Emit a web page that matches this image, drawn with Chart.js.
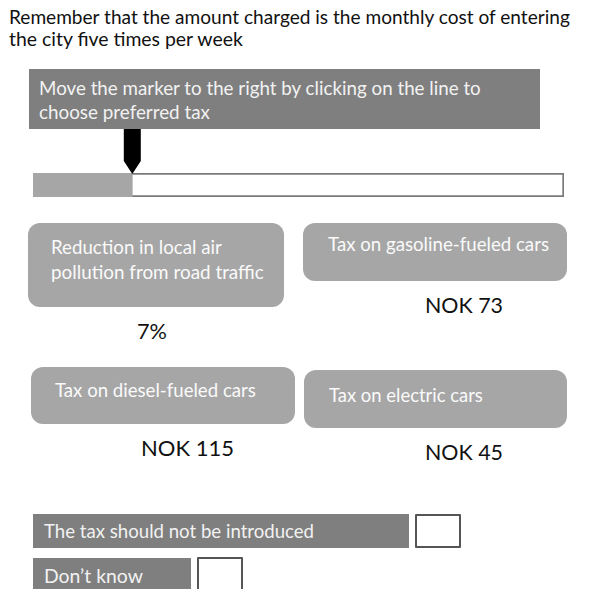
<!DOCTYPE html>
<html>
<head>
<meta charset="utf-8">
<script src="https://cdn.jsdelivr.net/npm/chart.js@4.4.1/dist/chart.umd.min.js"></script>
<style>
  html, body { margin:0; padding:0; background:#fff; }
  body { width:605px; height:589px; position:relative; overflow:hidden; font-family:Lato, "Open Sans", sans-serif; }
  .t { position:absolute; white-space:nowrap; line-height:24px; }
  .box { position:absolute; }
  .dark { background:#7f7f7f; color:#f2f2f2; }
  .light { background:#a6a6a6; color:#fafafa; border-radius:12px; }
  .chk { position:absolute; background:#fff; border:2px solid #555; box-sizing:border-box; border-radius:1px; }
  .val { color:#111; }
  #sliderWrap { position:absolute; left:20px; top:120px; width:560px; height:90px; z-index:0; }
  .over { z-index:2; }
</style>
</head>
<body>

<div class="t" data-w="561" style="left:9px;top:5px;color:#111">Remember that the amount charged is the monthly cost of entering</div>
<div class="t" data-w="234" style="left:9px;top:27px;color:#111">the city five times per week</div>

<div id="sliderWrap"><canvas id="slider"></canvas></div>

<div class="box dark over" style="left:29px;top:69px;width:511px;height:60px"></div>
<div class="t over" data-w="442" style="left:39px;top:76px;color:#f2f2f2">Move the marker to the right by clicking on the line to</div>
<div class="t over" data-w="171" style="left:39px;top:100px;color:#f2f2f2">choose preferred tax</div>

<div class="box light" style="left:28px;top:223px;width:256px;height:84px"></div>
<div class="t" data-w="171" style="left:51px;top:235px;color:#fafafa">Reduction in local air</div>
<div class="t" data-w="213" style="left:51px;top:260px;color:#fafafa">pollution from road traffic</div>

<div class="box light" style="left:303px;top:223px;width:264px;height:58px"></div>
<div class="t" data-w="221" style="left:328px;top:232px;color:#fafafa">Tax on gasoline-fueled cars</div>

<div class="box light" style="left:31px;top:367px;width:264px;height:57px"></div>
<div class="t" data-w="201" style="left:55px;top:378px;color:#fafafa">Tax on diesel-fueled cars</div>

<div class="box light" style="left:304px;top:370px;width:263px;height:58px"></div>
<div class="t" data-w="154" style="left:329px;top:383px;color:#fafafa">Tax on electric cars</div>

<div class="t val" data-w="30" style="left:137px;top:319px">7%</div>
<div class="t val" data-w="78" style="left:425px;top:293px">NOK 73</div>
<div class="t val" data-w="93" style="left:141px;top:436px">NOK 115</div>
<div class="t val" data-w="78" style="left:425px;top:440px">NOK 45</div>

<div class="box dark" style="left:33px;top:514px;width:376px;height:34px"></div>
<div class="t" data-w="270" style="left:44px;top:519px;color:#f2f2f2">The tax should not be introduced</div>
<div class="chk" style="left:415px;top:514px;width:46px;height:34px"></div>

<div class="box dark" style="left:33px;top:558px;width:158px;height:40px"></div>
<div class="t" data-w="99" style="left:44px;top:564px;color:#f2f2f2">Don’t  know</div>
<div class="chk" style="left:197px;top:557px;width:46px;height:40px"></div>

<script>
// slider data
const sliderLabels = ['Tax'];
const sliderMin = 0;
const sliderMax = 100;
const markerValue = [18.7];
const trackValue = [100];

// fit each text line to the width measured on the reference
document.querySelectorAll('.t').forEach(el=>{
  const base = 17;
  el.style.fontSize = base + 'px';
  const w = el.getBoundingClientRect().width;
  const target = Number(el.dataset.w);
  el.style.fontSize = (base * target / w).toFixed(2) + 'px';
});

const markerPlugin = {
  id:'marker',
  afterDatasetsDraw(chart){
    const {ctx, chartArea, scales} = chart;
    const x = scales.x.getPixelForValue(markerValue[0]);
    const top = chartArea.top;
    ctx.save();
    ctx.fillStyle = '#000';
    ctx.beginPath();
    ctx.moveTo(x - 8.5, top - 48);
    ctx.lineTo(x + 8.5, top - 48);
    ctx.lineTo(x + 8.5, top - 12);
    ctx.lineTo(x, top + 1);
    ctx.lineTo(x - 8.5, top - 12);
    ctx.closePath();
    ctx.fill();
    ctx.restore();
  }
};

new Chart(document.getElementById('slider'), {
  type:'bar',
  data:{
    labels: sliderLabels,
    datasets:[
      { data: markerValue, backgroundColor:'#a6a6a6', borderWidth:0, grouped:false, order:0 },
      { data: trackValue, backgroundColor:'#ffffff', borderColor:'#7a7a7a', borderWidth:2, grouped:false, order:1 }
    ]
  },
  options:{
    indexAxis:'y',
    responsive:true,
    maintainAspectRatio:false,
    animation:false,
    layout:{ padding:{ left:13, right:16, top:53, bottom:13 } },
    scales:{
      x:{ display:false, min:sliderMin, max:sliderMax },
      y:{ display:false }
    },
    datasets:{ bar:{ barPercentage:1, categoryPercentage:1 } },
    plugins:{ legend:{ display:false }, tooltip:{ enabled:false } }
  },
  plugins:[markerPlugin]
});
</script>
</body>
</html>
